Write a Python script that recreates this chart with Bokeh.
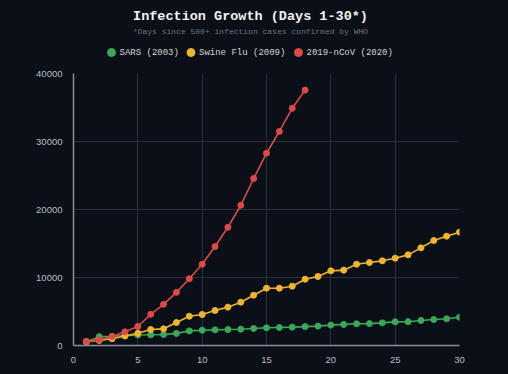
from bokeh.plotting import figure
from bokeh.layouts import column
from bokeh.models import FixedTicker, Range1d
from bokeh.core.properties import value
from bokeh.embed import file_html
from bokeh.resources import INLINE

days_sars = list(range(1, 31))
sars = [500, 1300, 1350, 1450, 1550, 1580, 1620, 1780, 2150, 2250, 2300, 2350, 2400, 2500, 2600,
        2650, 2700, 2780, 2850, 3000, 3100, 3200, 3220, 3330, 3480, 3500, 3680, 3820, 3930, 4150]
days_swine = list(range(1, 31))
swine = [600, 750, 1000, 1400, 1800, 2350, 2450, 3380, 4300, 4560, 5150, 5640, 6370, 7400, 8430,
         8430, 8720, 9750, 10150, 10980, 11080, 11960, 12200, 12450, 12840, 13330, 14360, 15440, 16080, 16670]
days_ncov = list(range(1, 19))
ncov = [580, 845, 1317, 2015, 2800, 4581, 6058, 7813, 9821, 11948, 14551, 17389, 20628, 24553,
        28276, 31481, 34886, 37558]

series_names = ["SARS (2003)", "Swine Flu (2009)", "2019-nCoV (2020)"]
colors = ["#3aa956", "#f0b42e", "#e04848"]
x_ticks = [0, 5, 10, 15, 20, 25, 30]
y_ticks = [0, 10000, 20000, 30000, 40000]
title_text = "Infection Growth (Days 1-30*)"
subtitle_text = "*Days since 500+ infection cases confirmed by WHO"

BG = "#0b1018"
W = 508
L, R, T, B = 73, 49, 8, 29

# ---- header (title, subtitle, legend), coordinates in page pixels ----
h = figure(width=W, height=65, output_backend="svg", toolbar_location=None,
           x_range=Range1d(L, W - R), y_range=Range1d(65, 0),
           min_border_left=L, min_border_right=R, min_border_top=0, min_border_bottom=0,
           x_axis_type=None, y_axis_type=None)
h.background_fill_color = BG
h.border_fill_color = BG
h.outline_line_color = None
h.grid.visible = False

h.text(x=[250], y=[15.5], text=[title_text], text_align="center", text_baseline="middle",
       text_font=value("Liberation Mono"), text_font_size="13.5px", text_font_style="bold",
       text_color="#f2f2f2")
h.text(x=[250], y=[31], text=[subtitle_text], text_align="center", text_baseline="middle",
       text_font=value("Liberation Mono"), text_font_size="8px", text_color="#6c7178")

legend_dot_x = [111, 190.5, 298]
legend_text_x = [119, 198.5, 306]
legend_y = [52, 52, 52]
h.scatter(legend_dot_x, legend_y, size=8, fill_color=colors, line_color=colors)
h.text(x=legend_text_x, y=legend_y, text=series_names, text_align="left", text_baseline="middle",
       text_font=value("Liberation Mono"), text_font_size="9px", text_color="#d4d4d4")

# ---- main chart ----
p = figure(width=W, height=309, output_backend="svg", toolbar_location=None,
           x_range=Range1d(0, 30), y_range=Range1d(0, 40000),
           min_border_left=L, min_border_right=R, min_border_bottom=B, min_border_top=T)
p.background_fill_color = BG
p.border_fill_color = BG
p.outline_line_color = None

for xs, ys, c in zip([days_sars, days_swine, days_ncov], [sars, swine, ncov], colors):
    p.line(xs, ys, line_color=c, line_width=1.6)
    p.scatter(xs, ys, size=6, fill_color=c, line_color=c)

for ax in (p.xaxis, p.yaxis):
    ax.axis_line_color = "#8a8f96"
    ax.axis_line_width = 1.5
    ax.major_tick_line_color = None
    ax.minor_tick_line_color = None
    ax.major_label_text_color = "#b8bcc2"
    ax.major_label_text_font = "Liberation Sans"
    ax.major_label_text_font_size = "9.5px"
    ax.major_label_standoff = 5
p.xaxis.ticker = FixedTicker(ticks=x_ticks)
p.yaxis.ticker = FixedTicker(ticks=y_ticks)
p.yaxis.formatter.use_scientific = False

for g in (p.xgrid, p.ygrid):
    g.grid_line_color = "#2a3039"
    g.grid_line_width = 1
p.xgrid.ticker = FixedTicker(ticks=x_ticks)
p.ygrid.ticker = FixedTicker(ticks=y_ticks)

layout = column(h, p, spacing=0)
layout.styles = {"background": BG}

html = file_html(layout, INLINE)
html = html.replace("<head>", "<head><style>body{background:#0b1018;}</style>", 1)
open("out.html", "w").write(html)
